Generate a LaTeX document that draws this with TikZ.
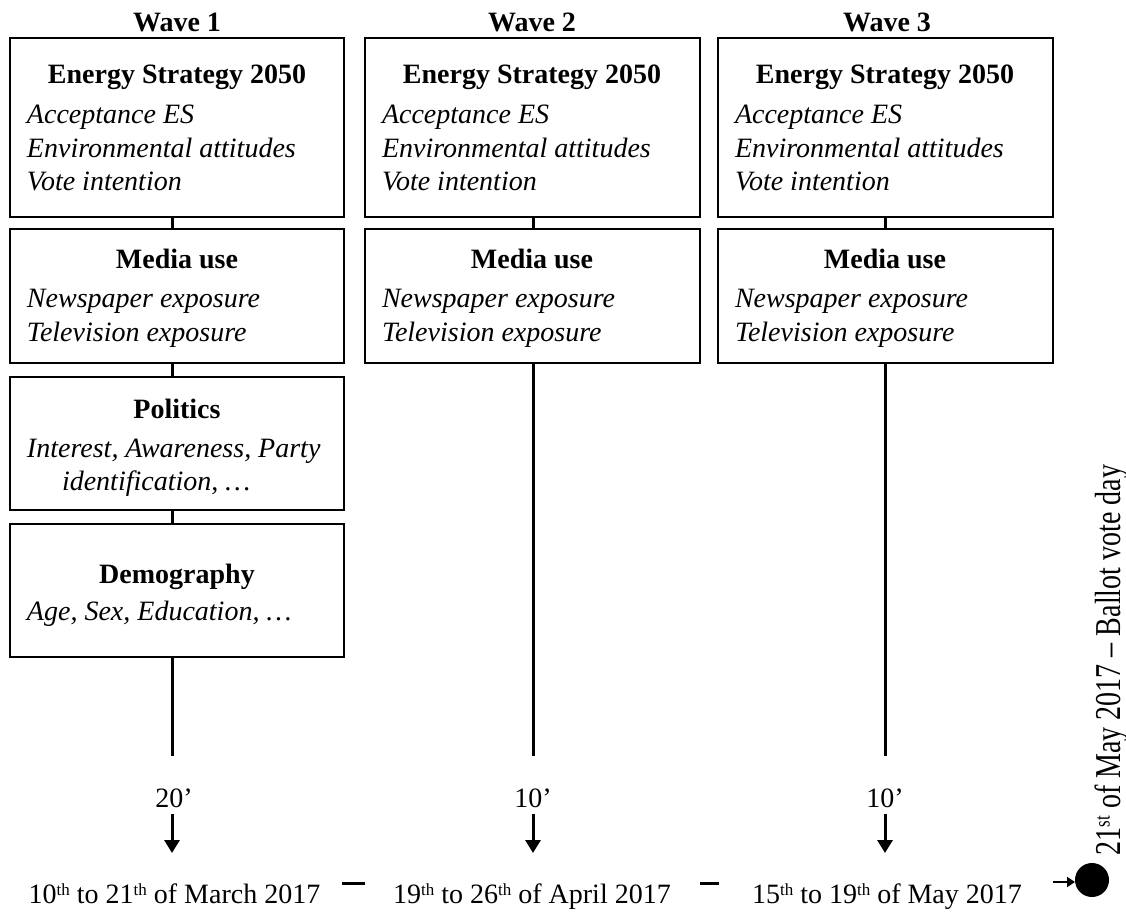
\documentclass[tikz,border=0pt]{standalone}
\usepackage{fontspec}
\setmainfont{Liberation Serif}
\usetikzlibrary{arrows.meta}
\newcommand\sups[1]{\raisebox{8pt}{\fontsize{17}{17}\selectfont #1}}
\begin{document}
\begin{tikzpicture}[x=1pt,y=-1pt,
  every node/.style={inner sep=0pt, outer sep=0pt},
  box/.style={draw, line width=2.5pt, anchor=north west, minimum width=334pt},
  wave/.style={font=\fontsize{28}{34}\selectfont\bfseries, anchor=base},
  ttl/.style={font=\fontsize{28}{34}\selectfont\bfseries, anchor=base},
  itm/.style={font=\fontsize{28}{34}\selectfont\itshape, anchor=base west},
  lbl/.style={font=\fontsize{28}{34}\selectfont, anchor=base},
  conn/.style={line width=3pt},
  arr/.style={line width=3pt, -{Triangle[length=13pt,width=15pt]}},
  sarr/.style={line width=2.5pt, -{Triangle[length=8pt,width=10pt]}},
  dashline/.style={line width=3pt}]
\useasboundingbox (0,0) rectangle (1126,911);

% column centre lines
\coordinate (c1) at (172,0);
\coordinate (c2) at (533,0);
\coordinate (c3) at (885,0);

% wave titles
\node[wave] (wv1) at (177,31) {Wave 1};
\node[wave] (wv2) at (532,31) {Wave 2};
\node[wave] (wv3) at (887,31) {Wave 3};

% boxes
\node[box, minimum height=179pt] (w1a) at (10,38) {};
\node[box, minimum height=134pt] (w1b) at (10,229) {};
\node[box, minimum height=133pt] (w1c) at (10,377) {};
\node[box, minimum height=133pt] (w1d) at (10,524) {};
\node[box, minimum height=179pt, minimum width=335pt] (w2a) at (365,38) {};
\node[box, minimum height=134pt, minimum width=335pt] (w2b) at (365,229) {};
\node[box, minimum height=179pt, minimum width=335pt] (w3a) at (718,38) {};
\node[box, minimum height=134pt, minimum width=335pt] (w3b) at (718,229) {};

% wave 1 texts
\node[ttl] (t1a) at (177,83) {Energy Strategy 2050};
\node[itm] (i1a1) at (27,123) {Acceptance ES};
\node[itm] (i1a2) at (27,157) {Environmental attitudes};
\node[itm] (i1a3) at (27,190) {Vote intention};
\node[ttl] (t1b) at (177,268) {Media use};
\node[itm] (i1b1) at (27,307) {Newspaper exposure};
\node[itm] (i1b2) at (27,341) {Television exposure};
\node[ttl] (t1c) at (177,418) {Politics};
\node[itm] (i1c1) at (27,457) {Interest, Awareness, Party};
\node[itm] (i1c2) at (62,490) {identification, \ldots};
\node[ttl] (t1d) at (177,583) {Demography};
\node[itm] (i1d1) at (27,620) {Age, Sex, Education, \ldots};

% wave 2 texts
\node[ttl] (t2a) at (532,83) {Energy Strategy 2050};
\node[itm] (i2a1) at (382,123) {Acceptance ES};
\node[itm] (i2a2) at (382,157) {Environmental attitudes};
\node[itm] (i2a3) at (382,190) {Vote intention};
\node[ttl] (t2b) at (532,268) {Media use};
\node[itm] (i2b1) at (382,307) {Newspaper exposure};
\node[itm] (i2b2) at (382,341) {Television exposure};

% wave 3 texts
\node[ttl] (t3a) at (885,83) {Energy Strategy 2050};
\node[itm] (i3a1) at (735,123) {Acceptance ES};
\node[itm] (i3a2) at (735,157) {Environmental attitudes};
\node[itm] (i3a3) at (735,190) {Vote intention};
\node[ttl] (t3b) at (885,268) {Media use};
\node[itm] (i3b1) at (735,307) {Newspaper exposure};
\node[itm] (i3b2) at (735,341) {Television exposure};

% connectors between boxes
\draw[conn] (w1a.south -| c1) -- (w1b.north -| c1);
\draw[conn] (w1b.south -| c1) -- (w1c.north -| c1);
\draw[conn] (w1c.south -| c1) -- (w1d.north -| c1);
\draw[conn] (w2a.south -| c2) -- (w2b.north -| c2);
\draw[conn] (w3a.south -| c3) -- (w3b.north -| c3);

% long timelines
\coordinate (e1) at (172,756);
\coordinate (e2) at (533,756);
\coordinate (e3) at (885,756);
\draw[conn] (w1d.south -| c1) -- (e1);
\draw[conn] (w2b.south -| c2) -- (e2);
\draw[conn] (w3b.south -| c3) -- (e3);

% durations
\node[lbl] (du1) at (174,807) {20’};
\node[lbl] (du2) at (533,807) {10’};
\node[lbl] (du3) at (885,807) {10’};

% dates
\node[lbl] (d1) at (174.5,903) {10\sups{th} to 21\sups{th} of March 2017};
\node[lbl] (d2) at (532,903) {19\sups{th} to 26\sups{th} of April 2017};
\node[lbl] (d3) at (887,903) {15\sups{th} to 19\sups{th} of May 2017};

% arrows down
\coordinate (a1) at (172,814); \coordinate (b1) at (172,853);
\coordinate (a2) at (533,814); \coordinate (b2) at (533,853);
\coordinate (a3) at (885,814); \coordinate (b3) at (885,853);
\draw[arr] (a1) -- (b1);
\draw[arr] (a2) -- (b2);
\draw[arr] (a3) -- (b3);

% dashes between dates
\coordinate (m1a) at (342,883); \coordinate (m1b) at (365,883);
\coordinate (m2a) at (700,883); \coordinate (m2b) at (719,883);
\draw[dashline] (m1a) -- (m1b);
\draw[dashline] (m2a) -- (m2b);

% ballot day
\node[circle, fill=black, minimum size=34pt] (dot) at (1092,880) {};
\coordinate (ra) at (1053,882);
\draw[sarr] (ra) -- (ra -| dot.west);
\node[lbl, rotate=90, yscale=1.3, anchor=base west] (bal) at (1120,855)
  {21\sups{st} of May 2017 – Ballot vote day};
\end{tikzpicture}
\end{document}
